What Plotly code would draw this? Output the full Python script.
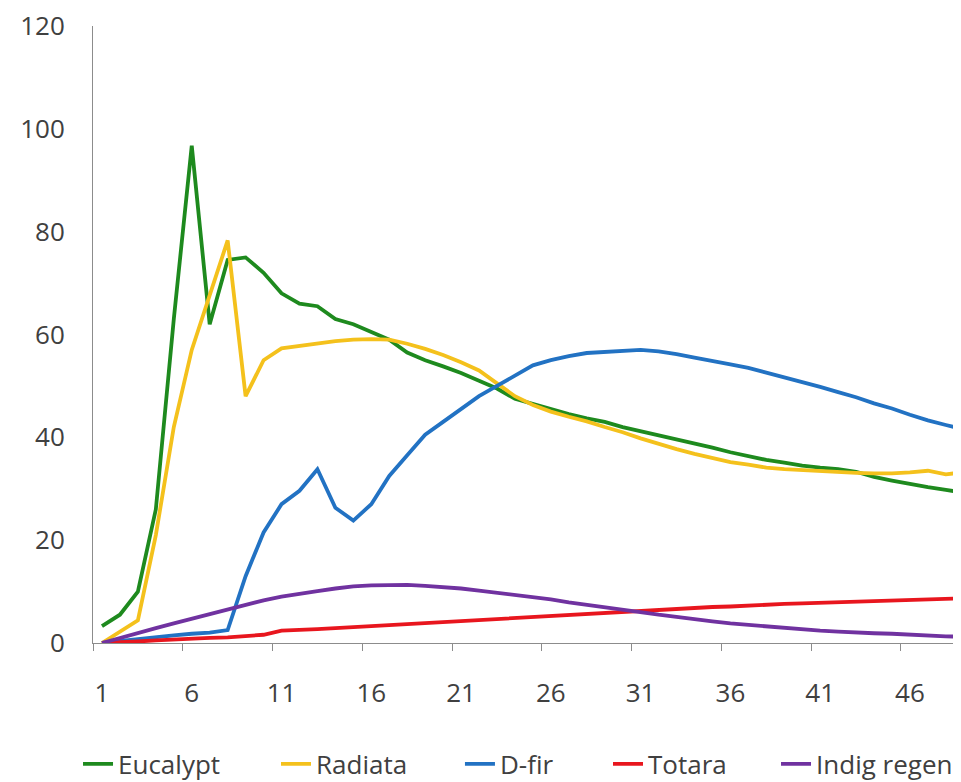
import plotly.graph_objects as go

years = list(range(1, 50))

eucalypt = [3.3, 5.5, 10, 26, 63, 96.7, 62, 74.5, 75, 72,
            68, 66, 65.5, 63, 62, 60.5, 59, 56.5, 55, 53.8,
            52.5, 51, 49.5, 47.5, 46.5, 45.5, 44.5, 43.7, 43, 42,
            41.2, 40.5, 39.6, 38.8, 38, 37.1, 36.3, 35.6, 35.1, 34.5,
            34.1, 33.8, 33.3, 32.3, 31.6, 30.9, 30.3, 29.8, 29.2]

radiata = [0, 2.3, 4.4, 21, 42, 57, 67.7, 78.3, 48, 55,
           57.3, 57.8, 58.2, 58.7, 59, 59.1, 59, 58.2, 57.2, 56,
           54.6, 53, 50.5, 48, 46.3, 45, 44, 43.1, 42, 41,
           39.8, 38.7, 37.7, 36.8, 36, 35.2, 34.7, 34.1, 33.8, 33.6,
           33.4, 33.2, 33.1, 33, 33, 33.2, 33.5, 32.8, 33.2]

dfir = [0, 0.4, 0.8, 1.2, 1.5, 1.8, 2.0, 2.5, 13, 21.5,
        27, 29.6, 33.8, 26.3, 23.8, 27, 32.5, 36.5, 40.5, 43,
        45.5, 48, 50, 52, 54, 55, 55.8, 56.4, 56.6, 56.9,
        57, 56.7, 56.2, 55.5, 54.9, 54.2, 53.5, 52.6, 51.7, 50.8,
        49.8, 48.8, 47.8, 46.6, 45.6, 44.4, 43.3, 42.4, 41.5]

totara = [0, 0.1, 0.3, 0.5, 0.7, 0.8, 1.0, 1.1, 1.3, 1.6,
          2.4, 2.5, 2.7, 2.9, 3.1, 3.3, 3.5, 3.7, 3.9, 4.1,
          4.3, 4.5, 4.7, 4.9, 5.1, 5.3, 5.5, 5.7, 5.9, 6.1,
          6.3, 6.5, 6.6, 6.8, 7.0, 7.1, 7.3, 7.4, 7.6, 7.7,
          7.8, 7.9, 8.0, 8.1, 8.3, 8.4, 8.5, 8.6, 8.7]

indig_regen = [0, 1, 2, 2.9, 3.8, 4.7, 5.6, 6.6, 7.5, 8.3,
               9.0, 9.6, 10.1, 10.6, 11.0, 11.2, 11.3, 11.3, 11.1, 10.9,
               10.6, 10.2, 9.8, 9.3, 8.9, 8.5, 7.9, 7.4, 6.9, 6.5,
               6.0, 5.5, 5.1, 4.6, 4.2, 3.8, 3.5, 3.2, 2.9, 2.6,
               2.4, 2.2, 2.0, 1.9, 1.8, 1.6, 1.4, 1.3, 1.2]

x_tick_vals = [1, 6, 11, 16, 21, 26, 31, 36, 41, 46]
y_tick_vals = [0, 20, 40, 60, 80, 100, 120]

series = [
    ("Eucalypt", eucalypt, "#1E8A1E"),
    ("Radiata", radiata, "#F4C11C"),
    ("D-fir", dfir, "#2272C3"),
    ("Totara", totara, "#E8161E"),
    ("Indig regen", indig_regen, "#7032A0"),
]

font_fam = "'Open Sans', Lato, sans-serif"
txt_col = "#404040"

# one legend box per series so each entry sits where the reference has it
legend_x = [-0.0171, 0.2089, 0.4189, 0.5879, 0.7797]
legend_ids = ["legend", "legend2", "legend3", "legend4", "legend5"]

fig = go.Figure()
for (name, vals, col), lid in zip(series, legend_ids):
    fig.add_trace(go.Scatter(x=years, y=vals, mode="lines", name=name,
                             line=dict(color=col, width=3.8), legend=lid))

legend_layout = {}
for lid, lx in zip(legend_ids, legend_x):
    legend_layout[lid] = dict(orientation="h", x=lx, xanchor="left", y=-0.158,
                              yanchor="top", font=dict(size=26, color=txt_col),
                              bgcolor="rgba(0,0,0,0)")

# page body has an 8px default margin, so offsets are compensated here
fig.update_layout(
    width=961, height=782,
    margin=dict(l=85, r=0, t=18, b=147, autoexpand=False),
    paper_bgcolor="white", plot_bgcolor="white",
    font=dict(family=font_fam, size=26, color=txt_col),
    showlegend=True,
    xaxis=dict(range=[0.5, 49.29], tickmode="array", tickvals=x_tick_vals,
               ticktext=[str(v) for v in x_tick_vals], ticks="", showgrid=False,
               zeroline=False, showline=True, linecolor="#8C8C8C", linewidth=1,
               ticklabelstandoff=27, automargin=False, ticklabeloverflow="allow",
               minor=dict(ticks="outside", tickmode="linear", tick0=0.5, dtick=5,
                          ticklen=7, tickcolor="#8C8C8C", showgrid=False)),
    yaxis=dict(range=[0, 120], tickmode="array", tickvals=y_tick_vals, ticks="",
               showgrid=False, zeroline=False, showline=True, linecolor="#8C8C8C",
               linewidth=1, ticklabelstandoff=22, automargin=False,
               ticklabeloverflow="allow"),
    **legend_layout,
)

fig.write_html("out.html")
